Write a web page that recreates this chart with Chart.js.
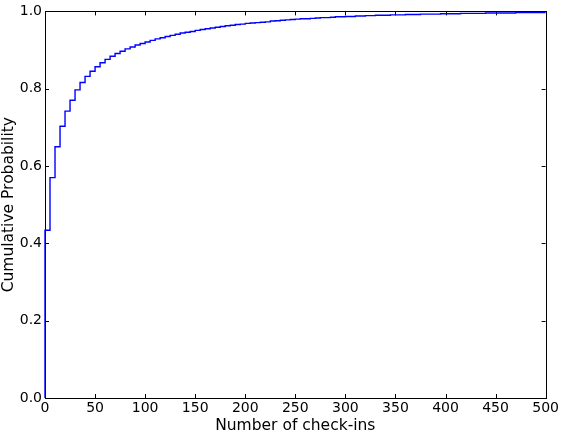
<!DOCTYPE html>
<html>
<head>
<meta charset="utf-8">
<script src="https://cdn.jsdelivr.net/npm/chart.js@4"></script>
<style>
html,body{margin:0;padding:0;background:#fff;}
#wrap{width:561px;height:430px;position:relative;}
</style>
</head>
<body>
<div id="wrap"><canvas id="c" width="561" height="430"></canvas></div>
<script>
// Number of check-ins (step positions)
const checkins = [0,0,5,10,15,20,25,30,35,40,45,50,55,60,65,70,75,80,85,90,95,
  100,105,110,115,120,125,130,135,140,145,150,155,160,165,170,175,180,185,190,195,
  200,205,210,215,220,225,230,235,240,245,250,255,260,265,270,275,280,285,290,295,
  300,305,310,315,320,325,330,335,340,345,350,355,360,365,370,375,380,385,390,395,
  400,405,410,415,420,425,430,435,440,445,450,455,460,465,470,475,480,485,490,495,500];
// Cumulative probability at each step
const cumulativeProb = [0,0.434,0.570,0.650,0.703,0.742,0.770,0.797,0.816,0.832,0.845,0.857,0.867,0.876,0.884,0.891,0.897,0.903,0.908,0.913,0.917,
  0.921,0.925,0.929,0.932,0.935,0.938,0.941,0.944,0.946,0.948,0.951,0.953,0.955,0.957,0.959,0.961,0.963,0.964,0.966,0.967,
  0.969,0.970,0.971,0.972,0.973,0.975,0.976,0.977,0.978,0.979,0.980,0.981,0.981,0.982,0.983,0.984,0.984,0.985,0.986,0.986,
  0.987,0.987,0.988,0.988,0.989,0.989,0.990,0.990,0.990,0.991,0.991,0.991,0.992,0.992,0.992,0.993,0.993,0.993,0.993,0.994,
  0.994,0.994,0.994,0.995,0.995,0.995,0.995,0.995,0.996,0.996,0.996,0.996,0.996,0.996,0.997,0.997,0.997,0.997,0.997,0.997,0.997];
const xTicks = [0,50,100,150,200,250,300,350,400,450,500];
const yTicks = [0.0,0.2,0.4,0.6,0.8,1.0];
const xTitle = 'Number of check-ins';
const yTitle = 'Cumulative Probability';

const points = checkins.map((x,i)=>({x:x,y:cumulativeProb[i]}));

const frameTicks = {
  id:'frameTicks',
  beforeDatasetsDraw(chart){
    const ctx = chart.ctx, a = chart.chartArea;
    const xs = chart.scales.x, ys = chart.scales.y;
    const L = 4;
    ctx.save();
    ctx.strokeStyle = '#000';
    ctx.lineWidth = 1;
    ctx.beginPath();
    xTicks.forEach(v=>{
      const px = Math.round(xs.getPixelForValue(v))+0.5;
      ctx.moveTo(px,a.bottom); ctx.lineTo(px,a.bottom-L);
      ctx.moveTo(px,a.top); ctx.lineTo(px,a.top+L);
    });
    yTicks.forEach(v=>{
      const py = Math.round(ys.getPixelForValue(v))+0.5;
      ctx.moveTo(a.left,py); ctx.lineTo(a.left+L,py);
      ctx.moveTo(a.right,py); ctx.lineTo(a.right-L,py);
    });
    ctx.stroke();
    ctx.strokeRect(Math.round(a.left)+0.5, Math.round(a.top)+0.5, Math.round(a.right-a.left), Math.round(a.bottom-a.top));
    ctx.restore();
  }
};

new Chart(document.getElementById('c'), {
  type:'line',
  data:{datasets:[{
    data:points,
    stepped:true,
    borderColor:'#0000ff',
    borderWidth:1.4,
    pointRadius:0,
    fill:false,
    tension:0,
    clip:false
  }]},
  options:{
    responsive:false,
    animation:false,
    layout:{padding:{top:6,right:14,left:0,bottom:0}},
    plugins:{legend:{display:false},tooltip:{enabled:false}},
    scales:{
      x:{
        type:'linear', min:0, max:500,
        afterFit:s=>{s.height=32;},
        afterBuildTicks:s=>{s.ticks = xTicks.map(v=>({value:v}));},
        grid:{display:false,drawTicks:false},
        border:{display:false},
        ticks:{color:'#000',padding:2,maxRotation:0,autoSkip:false,font:{family:'DejaVu Sans',size:14},callback:v=>String(v)},
        title:{display:true,text:xTitle,color:'#000',padding:0,font:{family:'DejaVu Sans',size:15.5,lineHeight:0.5}}
      },
      y:{
        type:'linear', min:0, max:1,
        afterFit:s=>{s.width=45;},
        afterBuildTicks:s=>{s.ticks = yTicks.map(v=>({value:v}));},
        grid:{display:false,drawTicks:false},
        border:{display:false},
        ticks:{color:'#000',padding:3,autoSkip:false,font:{family:'DejaVu Sans',size:14},callback:v=>Number(v).toFixed(1)},
        title:{display:true,text:yTitle,color:'#000',padding:0,font:{family:'DejaVu Sans',size:15.5}}
      }
    }
  },
  plugins:[frameTicks]
});
</script>
</body>
</html>
